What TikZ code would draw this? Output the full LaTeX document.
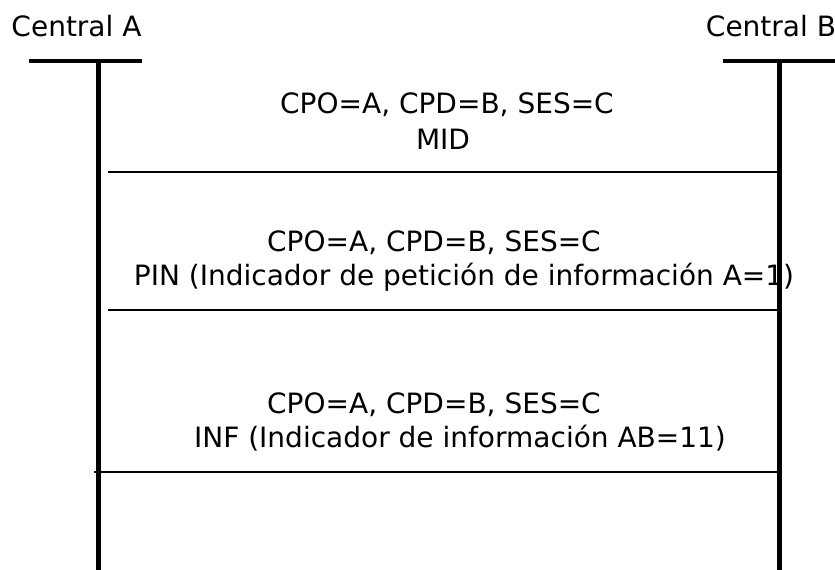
\documentclass[tikz,border=0pt]{standalone}
\usepackage{fontspec}
\setmainfont{DejaVu Sans}
\begin{document}
\begin{tikzpicture}[x=1pt, y=-1pt,
    texto/.style={font=\fontsize{28}{34}\selectfont, anchor=base, inner sep=0pt},
    central/.style={line width=4.5pt},
    mensaje/.style={line width=2pt}]
  \useasboundingbox (0,0) rectangle (835,570);
  % centrales
  \node[texto] (ca) at (76.5,36) {Central A};
  \node[texto] (cb) at (771,36) {Central B};
  % mensajes
  \node[texto] (mid1) at (447,113) {CPO=A, CPD=B, SES=C};
  \node[texto] (mid2) at (443,149) {MID};
  \node[texto] (pin1) at (434,251) {CPO=A, CPD=B, SES=C};
  \node[texto] (pin2) at (464,285) {PIN (Indicador de petición de información A=1)};
  \node[texto] (inf1) at (434,413) {CPO=A, CPD=B, SES=C};
  \node[texto] (inf2) at (460,447) {INF (Indicador de información AB=11)};
  % lineas de las centrales
  \coordinate (a0) at (29,61);   \coordinate (a1) at (142,61);
  \coordinate (b0) at (723,61);  \coordinate (b1) at (835,61);
  \coordinate (at) at (98.5,61); \coordinate (ab) at (98.5,570);
  \coordinate (bt) at (779.5,61); \coordinate (bb) at (779.5,570);
  \draw[central] (a0) -- (a1);
  \draw[central] (b0) -- (b1);
  \draw[central] (at) -- (ab);
  \draw[central] (bt) -- (bb);
  % separadores
  \coordinate (s1) at (108,172); \coordinate (e1) at (779.5,172);
  \coordinate (s2) at (108,310); \coordinate (e2) at (779.5,310);
  \coordinate (s3) at (94,472);  \coordinate (e3) at (779.5,472);
  \draw[mensaje] (s1) -- (e1);
  \draw[mensaje] (s2) -- (e2);
  \draw[mensaje] (s3) -- (e3);
\end{tikzpicture}
\end{document}
